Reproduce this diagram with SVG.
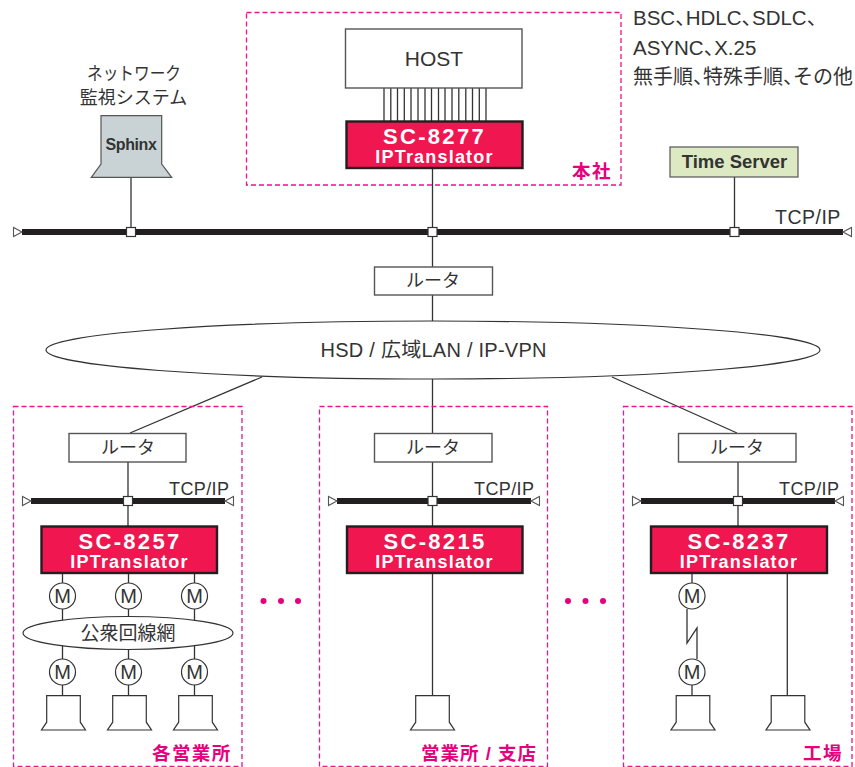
<svg xmlns="http://www.w3.org/2000/svg" width="855" height="767" viewBox="0 0 855 767">
<style>
text{font-family:"Liberation Sans","Noto Sans CJK JP",sans-serif;fill:#333}
.m{text-anchor:middle}
.zone{fill:none;stroke:#e9148f;stroke-width:1.3;stroke-dasharray:5 3}
.zl{fill:#e6007e;font-weight:700;font-size:18.500px;letter-spacing:1.400px}
.box{fill:#fff;stroke:#555;stroke-width:1.4}
.sc{fill:#f01650;stroke:#231f20;stroke-width:2.4}
.sc1{fill:#fff;font-weight:700;font-size:22px;letter-spacing:2.300px;text-anchor:middle}
.sc2{fill:#fff;font-weight:700;font-size:18px;letter-spacing:1.200px;text-anchor:middle}
.bus{stroke:#231f20;stroke-width:6;fill:none}
.c{stroke:#333;stroke-width:1.3;fill:none}
.tri{fill:#fff;stroke:#555;stroke-width:1.1}
.sq{fill:#fff;stroke:#333;stroke-width:1.2}
.mo{fill:#fff;stroke:#333;stroke-width:1.2}
.mt{font-size:20px;text-anchor:middle}
.term{fill:#fff;stroke:#333;stroke-width:1.2}
.ell{fill:#fff;stroke:#333;stroke-width:1.2}
.lbl{font-size:18px;text-anchor:middle}
.tcp{font-size:18px;letter-spacing:.400px}
.dot{fill:#e6007e}
.cm{letter-spacing:-10px}
</style>
<defs>
<path id="t" d="M-16.800 0H16.800V26.500L22 34.300H-22L-16.800 26.500Z"/>
<g id="modem"><circle class="mo" r="13"/><text class="mt" y="7">M</text></g>
</defs>

<g id="connectors">
<path class="c" d="M131 177V232M432.500 168V267M734.500 177V232M432.500 295V321"/>
<path class="c" d="M384 88V121M390.800 88V121M397.500 88V121M404.300 88V121M411 88V121M418 88V121M425 88V121M431.500 88V121M438.500 88V121M445 88V121M452 88V121M458.800 88V121M465.800 88V121M472.500 88V121M479.300 88V121M486 88V121"/>
<path class="c" d="M262 377L130 433M432.500 379V433M612 377L737 433"/>
<path class="c" d="M128 462V526M432.500 462V526M738 462V526"/>
<path class="c" d="M62.500 573V583M128.500 573V583M194.500 573V583M62.500 609V620M128.500 609V620M194.500 609V620M62.500 646V659M128.500 646V659M194.500 646V659M62.500 685V696M128.500 685V696M194.500 685V696"/>
<path class="c" d="M432.500 573V696"/>
<path class="c" d="M692 573V583M687 609V643L697 628V659M692 685V696M787.300 573V696"/>
<path class="bus" d="M22 232H843M31 501H225M337 501H531M641 501H835"/>
<path class="tri" d="M22 232L13.500 227.500V236.500ZM843 232L851.500 227.500V236.500ZM31 501L22.500 496.500V505.500ZM225 501L233.500 496.500V505.500ZM337 501L328.500 496.500V505.500ZM531 501L539.500 496.500V505.500ZM641 501L632.500 496.500V505.500ZM835 501L843.500 496.500V505.500Z"/>
<g class="sq"><rect x="126.500" y="227.500" width="9" height="9"/><rect x="428" y="227.500" width="9" height="9"/><rect x="730" y="227.500" width="9" height="9"/><rect x="123.500" y="496.500" width="9" height="9"/><rect x="428" y="496.500" width="9" height="9"/><rect x="733.500" y="496.500" width="9" height="9"/></g>
</g>

<g id="zone-honsha"><rect class="zone" x="246.500" y="12.500" width="374.500" height="172.500"/><text class="zl" x="572" y="178">本社</text></g>
<g id="zone-kaku"><rect class="zone" x="13.500" y="406.500" width="228.500" height="360"/><text class="zl" x="152" y="760">各営業所</text></g>
<g id="zone-shiten"><rect class="zone" x="319.500" y="406.500" width="228" height="360"/><text class="zl" x="421" y="760" style="letter-spacing:1px">営業所 / 支店</text></g>
<g id="zone-kojo"><rect class="zone" x="623.500" y="406.500" width="228.500" height="360"/><text class="zl" x="803" y="760">工場</text></g>

<g id="protocols">
<text x="633" y="25" font-size="20.500">BSC<tspan class="cm">、</tspan>HDLC<tspan class="cm">、</tspan>SDLC、</text>
<text x="633" y="55" font-size="20.500">ASYNC<tspan class="cm">、</tspan>X.25</text>
<text x="633" y="84" font-size="20">無手順<tspan class="cm">、</tspan>特殊手順<tspan class="cm">、</tspan>その他</text>
</g>

<g id="monitor-label"><text x="87" y="80" font-size="18" textLength="94" lengthAdjust="spacingAndGlyphs">ネットワーク</text><text class="lbl" x="133.500" y="104">監視システム</text></g>
<g id="sphinx"><path d="M101 115.700H161.700V164L171.700 177.300H91.300L101 164Z" fill="#c9d3d6" stroke="#555" stroke-width="1.200"/><text x="131" y="150" font-size="16" font-weight="700" class="m" letter-spacing="-.4">Sphinx</text></g>
<g id="host"><rect class="box" x="345.500" y="29" width="176.500" height="59"/><text class="m" x="434" y="66" font-size="21">HOST</text></g>
<g id="sc-8277"><rect class="sc" x="346.500" y="121.500" width="176" height="46.500"/><text class="sc1" x="434.500" y="143.500">SC-8277</text><text class="sc2" x="434.500" y="162.500">IPTranslator</text></g>
<g id="time-server"><rect x="670" y="147" width="128" height="30" fill="#dde9c3" stroke="#555" stroke-width="1.200"/><text class="m" x="734.500" y="167.500" font-size="18.500" font-weight="700">Time Server</text></g>
<g id="tcp-main"><text x="775" y="224" font-size="19.500" letter-spacing=".5">TCP/IP</text></g>
<g id="router-main"><rect class="box" x="374.500" y="267" width="118" height="28"/><text class="lbl" x="433" y="287">ルータ</text></g>
<g id="wan"><ellipse class="ell" cx="433" cy="350" rx="387" ry="29"/><text x="320.500" y="356.700" font-size="20" textLength="226">HSD / 広域LAN / IP-VPN</text></g>

<g id="branch-a">
<g id="router-a"><rect class="box" x="69" y="433.500" width="117" height="28.500"/><text class="lbl" x="128" y="454">ルータ</text></g>
<text class="tcp" x="169" y="495">TCP/IP</text>
<g id="sc-8257"><rect class="sc" x="41.500" y="526.500" width="175.500" height="46.500"/><text class="sc1" x="130" y="548.500">SC-8257</text><text class="sc2" x="129.500" y="567.500">IPTranslator</text></g>
<use href="#modem" x="62.500" y="596"/><use href="#modem" x="128.500" y="596"/><use href="#modem" x="194.500" y="596"/>
<g id="pstn"><ellipse class="ell" cx="128" cy="633" rx="105" ry="16.500"/><text class="m" x="128" y="640" font-size="19">公衆回線網</text></g>
<use href="#modem" x="62.500" y="672"/><use href="#modem" x="128.500" y="672"/><use href="#modem" x="194.500" y="672"/>
<use href="#t" class="term" x="63.500" y="695.700"/><use href="#t" class="term" x="129.500" y="695.700"/><use href="#t" class="term" x="195.500" y="695.700"/>
</g>

<g id="branch-b">
<g id="router-b"><rect class="box" x="374.500" y="433.500" width="117.500" height="28.500"/><text class="lbl" x="433" y="454">ルータ</text></g>
<text class="tcp" x="474" y="495">TCP/IP</text>
<g id="sc-8215"><rect class="sc" x="347" y="526.500" width="175.500" height="46.500"/><text class="sc1" x="435" y="548.500">SC-8215</text><text class="sc2" x="434.500" y="567.500">IPTranslator</text></g>
<use href="#t" class="term" x="432.500" y="695.700"/>
</g>

<g id="branch-c">
<g id="router-c"><rect class="box" x="678.500" y="433.500" width="117.500" height="28.500"/><text class="lbl" x="737" y="454">ルータ</text></g>
<text class="tcp" x="779" y="495">TCP/IP</text>
<g id="sc-8237"><rect class="sc" x="651" y="526.500" width="176" height="46.500"/><text class="sc1" x="739" y="548.500">SC-8237</text><text class="sc2" x="739" y="567.500">IPTranslator</text></g>
<use href="#modem" x="692" y="596"/><use href="#modem" x="692" y="672"/>
<use href="#t" class="term" x="693" y="695.700"/><use href="#t" class="term" x="788" y="695.700"/>
</g>

<g id="ellipsis-1"><circle class="dot" cx="263.500" cy="601" r="3"/><circle class="dot" cx="281" cy="601" r="3"/><circle class="dot" cx="298" cy="601" r="3"/></g>
<g id="ellipsis-2"><circle class="dot" cx="568" cy="601" r="3"/><circle class="dot" cx="585.500" cy="601" r="3"/><circle class="dot" cx="603" cy="601" r="3"/></g>
</svg>
